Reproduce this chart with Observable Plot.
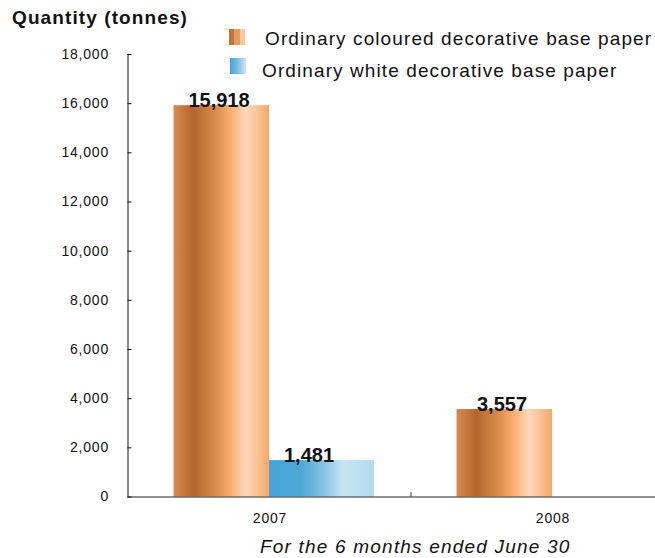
<!DOCTYPE html>
<html>
<head>
<meta charset="utf-8">
<script src="https://cdn.jsdelivr.net/npm/d3@7"></script>
<script src="https://cdn.jsdelivr.net/npm/@observablehq/plot@0.6"></script>
<style>
  body { margin: 0; background: #fff; font-family: "Liberation Sans", Arial, sans-serif; color: #111; }
  #wrap { position: relative; width: 655px; height: 558px; overflow: hidden; }
  #chart { position: absolute; left: 0; top: 0; }
  #title { position: absolute; left: 12px; top: 8px; font-weight: bold; font-size: 19px; line-height: 20px; letter-spacing: 1.1px; white-space: nowrap; }
  .legtext { position: absolute; font-size: 19px; line-height: 20px; letter-spacing: 1.1px; white-space: nowrap; }
  .sw { position: absolute; width: 16px; height: 16px; }
  #caption { position: absolute; left: 260px; top: 537px; font-size: 19px; line-height: 19px; font-style: italic; letter-spacing: 1.2px; white-space: nowrap; }
  g[aria-label="y-axis tick label"] text, g[aria-label="x-axis tick label"] text { letter-spacing: 0.8px; }
</style>
</head>
<body>
<div id="wrap">
  <div id="chart"></div>
  <div id="title"></div>
  <div id="legend"></div>
  <div id="caption"></div>
</div>
<script>
// ---- data ----
const years = ["2007", "2008"];
const seriesNames = ["Ordinary coloured decorative base paper", "Ordinary white decorative base paper"];
const colouredValues = [15918, 3557];
const whiteValues = [1481, 0];
const yTicks = [0, 2000, 4000, 6000, 8000, 10000, 12000, 14000, 16000, 18000];
const titleText = "Quantity (tonnes)";
const captionText = "For the 6 months ended June 30";

const coloured = years.map((year, i) => ({year, value: colouredValues[i]})).filter(d => d.value > 0);
const white = years.map((year, i) => ({year, value: whiteValues[i]})).filter(d => d.value > 0);
const fmt = d3.format(",");

const chart = Plot.plot({
  width: 655,
  height: 558,
  marginTop: 54,
  marginBottom: 61.5,
  marginLeft: 127.5,
  marginRight: 0,
  style: {fontFamily: '"Liberation Sans", Arial, sans-serif', fontSize: "14px", color: "#111", background: "transparent", overflow: "hidden"},
  x: {domain: years, range: [127.5, 695], padding: 0, label: null, tickSize: 0, tickPadding: 16},
  y: {domain: [0, 18000], ticks: yTicks, tickFormat: fmt, label: null, tickSize: -4, tickPadding: 23, line: true},
  marks: [
    Plot.barY(coloured, {x: "year", y: "value", fill: "url(#gradOrange)", insetLeft: 45.5, insetRight: 142}),
    Plot.barY(white, {x: "year", y: "value", fill: "url(#gradBlue)", insetLeft: 141, insetRight: 37}),
    Plot.text(coloured, {x: "year", y: "value", text: d => fmt(d.value), dx: -51, dy: 1, lineAnchor: "bottom", fontWeight: "bold", fontSize: 20, fill: "#111"}),
    Plot.text(white, {x: "year", y: "value", text: d => fmt(d.value), dx: 39, dy: 1, lineAnchor: "bottom", fontWeight: "bold", fontSize: 20, fill: "#111"}),
    Plot.ruleY([0], {stroke: "#222"}),
    Plot.ruleX([years[1]], {x: d => d, y1: 0, y2: 170, dx: -142, stroke: "#222"})
  ]
});

const svg = d3.select(chart);
const defs = svg.insert("defs", ":first-child");
function grad(id, stops) {
  const g = defs.append("linearGradient").attr("id", id).attr("x1", "0").attr("x2", "1").attr("y1", "0").attr("y2", "0");
  stops.forEach(([o, c]) => g.append("stop").attr("offset", o).attr("stop-color", c));
}
grad("gradOrange", [[0, "#D98B4F"], [0.21, "#B3662B"], [0.45, "#DB9050"], [0.58, "#F8AA6A"], [0.76, "#FDD9BA"], [0.9, "#F9BE8E"], [1, "#F5A667"]]);
grad("gradBlue", [[0, "#45A5D6"], [0.3, "#4AA8D7"], [0.52, "#86C4E2"], [0.7, "#C6E4F2"], [1, "#B5DBEE"]]);

document.getElementById("chart").appendChild(chart);
document.getElementById("title").textContent = titleText;
document.getElementById("caption").textContent = captionText;

const legend = document.getElementById("legend");
const legendItems = [
  {name: seriesNames[0], sw: "linear-gradient(to right, #C47434 0 33%, #E49B63 33% 66%, #F9C79C 66% 100%)", swTop: 29, swLeft: 229, textLeft: 265, textTop: 29},
  {name: seriesNames[1], sw: "linear-gradient(to right, #45A5D6 0%, #7DC0E1 50%, #CDE8F4 100%)", swTop: 58, swLeft: 230, textLeft: 262, textTop: 61}
];
legendItems.forEach(it => {
  const s = document.createElement("div");
  s.className = "sw";
  s.style.left = it.swLeft + "px";
  s.style.top = it.swTop + "px";
  s.style.background = it.sw;
  legend.appendChild(s);
  const t = document.createElement("div");
  t.className = "legtext";
  t.style.left = it.textLeft + "px";
  t.style.top = it.textTop + "px";
  t.textContent = it.name;
  legend.appendChild(t);
});
</script>
</body>
</html>
